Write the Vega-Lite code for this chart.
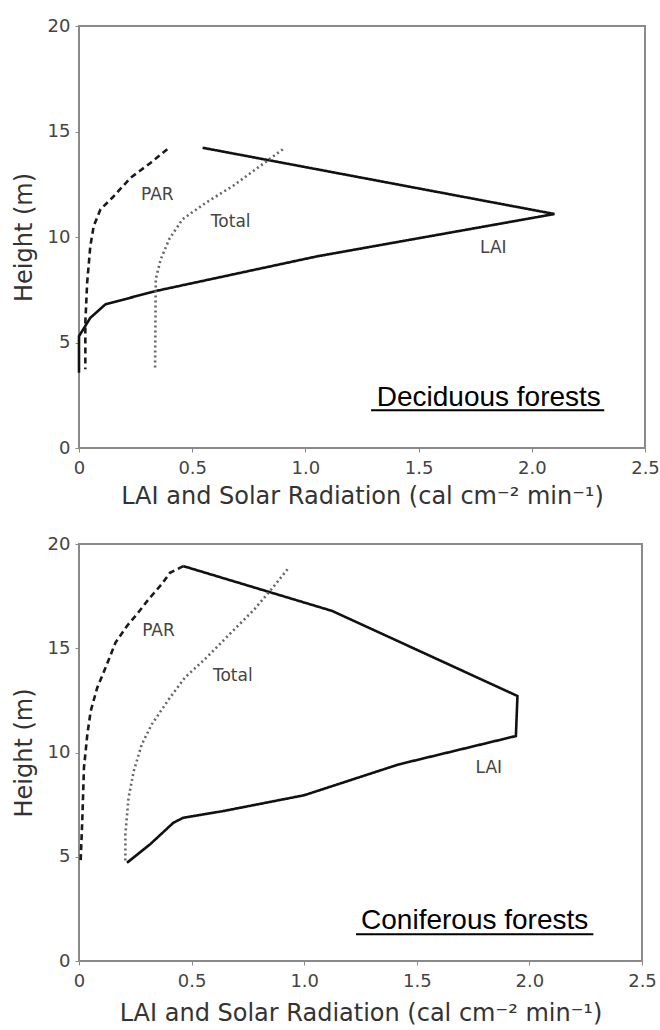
{
  "$schema": "https://vega.github.io/schema/vega-lite/v6.json",
  "padding": {"left": 11, "top": 16, "right": 0, "bottom": 2},
  "background": "white",
  "spacing": 25,
  "config": {
    "font": "DejaVu Sans",
    "view": {"stroke": "#8a8a8a", "strokeWidth": 2},
    "axis": {
      "grid": false,
      "domain": false,
      "tickSize": 4,
      "tickColor": "#888888",
      "labelFontSize": 18,
      "labelColor": "#444444",
      "titleFontSize": 24,
      "titleFontWeight": "normal",
      "titleColor": "#333333",
      "labelFlush": false,
      "labelOverlap": false
    }
  },
  "datasets": {
    "dec": [
      {"series": "LAI", "o": 1, "x": 0.546, "h": 14.23},
      {"series": "LAI", "o": 2, "x": 2.10, "h": 11.09},
      {"series": "LAI", "o": 3, "x": 1.05, "h": 9.08},
      {"series": "LAI", "o": 4, "x": 0.339, "h": 7.44},
      {"series": "LAI", "o": 5, "x": 0.117, "h": 6.81},
      {"series": "LAI", "o": 6, "x": 0.05, "h": 6.17},
      {"series": "LAI", "o": 7, "x": 0.0, "h": 5.3},
      {"series": "LAI", "o": 8, "x": 0.0, "h": 3.57},
      {"series": "PAR", "o": 1, "x": 0.39, "h": 14.16},
      {"series": "PAR", "o": 2, "x": 0.317, "h": 13.52},
      {"series": "PAR", "o": 3, "x": 0.228, "h": 12.81},
      {"series": "PAR", "o": 4, "x": 0.147, "h": 11.86},
      {"series": "PAR", "o": 5, "x": 0.095, "h": 11.31},
      {"series": "PAR", "o": 6, "x": 0.065, "h": 10.52},
      {"series": "PAR", "o": 7, "x": 0.05, "h": 9.57},
      {"series": "PAR", "o": 8, "x": 0.036, "h": 7.83},
      {"series": "PAR", "o": 9, "x": 0.028, "h": 5.94},
      {"series": "PAR", "o": 10, "x": 0.028, "h": 3.73},
      {"series": "Total", "o": 1, "x": 0.90, "h": 14.16},
      {"series": "Total", "o": 2, "x": 0.82, "h": 13.52},
      {"series": "Total", "o": 3, "x": 0.68, "h": 12.42},
      {"series": "Total", "o": 4, "x": 0.561, "h": 11.63},
      {"series": "Total", "o": 5, "x": 0.457, "h": 10.84},
      {"series": "Total", "o": 6, "x": 0.398, "h": 9.89},
      {"series": "Total", "o": 7, "x": 0.361, "h": 8.94},
      {"series": "Total", "o": 8, "x": 0.339, "h": 8.0},
      {"series": "Total", "o": 9, "x": 0.336, "h": 3.73}
    ],
    "con": [
      {"series": "LAI", "o": 1, "x": 0.463, "h": 18.94},
      {"series": "LAI", "o": 2, "x": 1.124, "h": 16.79},
      {"series": "LAI", "o": 3, "x": 1.947, "h": 12.71},
      {"series": "LAI", "o": 4, "x": 1.94, "h": 10.79},
      {"series": "LAI", "o": 5, "x": 1.42, "h": 9.43},
      {"series": "LAI", "o": 6, "x": 1.0, "h": 7.95},
      {"series": "LAI", "o": 7, "x": 0.64, "h": 7.19},
      {"series": "LAI", "o": 8, "x": 0.463, "h": 6.87},
      {"series": "LAI", "o": 9, "x": 0.419, "h": 6.63},
      {"series": "LAI", "o": 10, "x": 0.316, "h": 5.6},
      {"series": "LAI", "o": 11, "x": 0.213, "h": 4.71},
      {"series": "PAR", "o": 1, "x": 0.463, "h": 18.94},
      {"series": "PAR", "o": 2, "x": 0.404, "h": 18.62},
      {"series": "PAR", "o": 3, "x": 0.367, "h": 18.07},
      {"series": "PAR", "o": 4, "x": 0.309, "h": 17.35},
      {"series": "PAR", "o": 5, "x": 0.257, "h": 16.63},
      {"series": "PAR", "o": 6, "x": 0.213, "h": 16.07},
      {"series": "PAR", "o": 7, "x": 0.162, "h": 15.27},
      {"series": "PAR", "o": 8, "x": 0.118, "h": 14.07},
      {"series": "PAR", "o": 9, "x": 0.081, "h": 13.11},
      {"series": "PAR", "o": 10, "x": 0.052, "h": 11.99},
      {"series": "PAR", "o": 11, "x": 0.037, "h": 10.87},
      {"series": "PAR", "o": 12, "x": 0.022, "h": 9.27},
      {"series": "PAR", "o": 13, "x": 0.015, "h": 6.87},
      {"series": "PAR", "o": 14, "x": 0.007, "h": 4.71},
      {"series": "Total", "o": 1, "x": 0.926, "h": 18.79},
      {"series": "Total", "o": 2, "x": 0.86, "h": 17.9},
      {"series": "Total", "o": 3, "x": 0.779, "h": 16.87},
      {"series": "Total", "o": 4, "x": 0.683, "h": 15.83},
      {"series": "Total", "o": 5, "x": 0.566, "h": 14.55},
      {"series": "Total", "o": 6, "x": 0.47, "h": 13.59},
      {"series": "Total", "o": 7, "x": 0.404, "h": 12.63},
      {"series": "Total", "o": 8, "x": 0.323, "h": 11.35},
      {"series": "Total", "o": 9, "x": 0.279, "h": 10.39},
      {"series": "Total", "o": 10, "x": 0.243, "h": 9.11},
      {"series": "Total", "o": 11, "x": 0.22, "h": 7.83},
      {"series": "Total", "o": 12, "x": 0.206, "h": 6.08},
      {"series": "Total", "o": 13, "x": 0.206, "h": 4.8}
    ],
    "decLabels": [
      {"label": "PAR", "x": 0.346, "h": 12.0},
      {"label": "Total", "x": 0.67, "h": 10.7},
      {"label": "LAI", "x": 1.83, "h": 9.48}
    ],
    "conLabels": [
      {"label": "PAR", "x": 0.353, "h": 15.83},
      {"label": "Total", "x": 0.683, "h": 13.67},
      {"label": "LAI", "x": 1.82, "h": 9.26}
    ],
    "decName": [{"label": "Deciduous forests", "x": 1.81, "h": 2.0, "x1": 1.29, "x2": 2.32, "hu": 1.79}],
    "conName": [{"label": "Coniferous forests", "x": 1.757, "h": 1.53, "x1": 1.23, "x2": 2.284, "hu": 1.28}]
  },
  "vconcat": [
    {
      "width": 566,
      "height": 422,
      "encoding": {
        "x": {"field": "x", "type": "quantitative",
          "scale": {"domain": [0, 2.5], "nice": false, "zero": false},
          "axis": {"title": "LAI and Solar Radiation (cal cm⁻² min⁻¹)", "values": [0, 0.5, 1, 1.5, 2, 2.5],
            "labelExpr": "datum.value == 0 ? '0' : format(datum.value, '.1f')", "labelPadding": 7, "titlePadding": 7}},
        "y": {"field": "h", "type": "quantitative",
          "scale": {"domain": [0, 20], "nice": false},
          "axis": {"title": "Height (m)", "values": [0, 5, 10, 15, 20], "labelPadding": 5, "titlePadding": 11}}
      },
      "layer": [
        {
          "data": {"name": "dec"},
          "mark": {"type": "line", "strokeCap": "butt", "strokeJoin": "miter"},
          "encoding": {
            "order": {"field": "o", "type": "quantitative"},
            "color": {"field": "series", "type": "nominal", "scale": {"domain": ["LAI", "PAR", "Total"], "range": ["#111111", "#1a1a1a", "#666666"]}, "legend": null},
            "strokeDash": {"field": "series", "type": "nominal", "scale": {"domain": ["LAI", "PAR", "Total"], "range": [[1, 0], [6, 4], [2, 3]]}, "legend": null},
            "strokeWidth": {"field": "series", "type": "nominal", "scale": {"domain": ["LAI", "PAR", "Total"], "range": [2.6, 2.6, 2]}, "legend": null}
          }
        },
        {
          "data": {"name": "decLabels"},
          "mark": {"type": "text", "fontSize": 17, "color": "#444444", "align": "center", "baseline": "middle"},
          "encoding": {"text": {"field": "label"}}
        },
        {
          "data": {"name": "decName"},
          "mark": {"type": "text", "font": "Liberation Sans", "fontSize": 28, "color": "#000000", "align": "center", "baseline": "alphabetic"},
          "encoding": {"text": {"field": "label"}}
        },
        {
          "data": {"name": "decName"},
          "mark": {"type": "rule", "color": "#000000", "strokeWidth": 2},
          "encoding": {"x": {"field": "x1", "type": "quantitative"}, "x2": {"field": "x2"}, "y": {"field": "hu", "type": "quantitative"}}
        }
      ]
    },
    {
      "width": 563,
      "height": 417,
      "encoding": {
        "x": {"field": "x", "type": "quantitative",
          "scale": {"domain": [0, 2.5], "nice": false, "zero": false},
          "axis": {"title": "LAI and Solar Radiation (cal cm⁻² min⁻¹)", "values": [0, 0.5, 1, 1.5, 2, 2.5],
            "labelExpr": "datum.value == 0 ? '0' : format(datum.value, '.1f')", "labelPadding": 7, "titlePadding": 11}},
        "y": {"field": "h", "type": "quantitative",
          "scale": {"domain": [0, 20], "nice": false},
          "axis": {"title": "Height (m)", "values": [0, 5, 10, 15, 20], "labelPadding": 5, "titlePadding": 11}}
      },
      "layer": [
        {
          "data": {"name": "con"},
          "mark": {"type": "line", "strokeCap": "butt", "strokeJoin": "miter"},
          "encoding": {
            "order": {"field": "o", "type": "quantitative"},
            "color": {"field": "series", "type": "nominal", "scale": {"domain": ["LAI", "PAR", "Total"], "range": ["#111111", "#1a1a1a", "#666666"]}, "legend": null},
            "strokeDash": {"field": "series", "type": "nominal", "scale": {"domain": ["LAI", "PAR", "Total"], "range": [[1, 0], [6, 4], [2, 3]]}, "legend": null},
            "strokeWidth": {"field": "series", "type": "nominal", "scale": {"domain": ["LAI", "PAR", "Total"], "range": [2.6, 2.6, 2]}, "legend": null}
          }
        },
        {
          "data": {"name": "conLabels"},
          "mark": {"type": "text", "fontSize": 17, "color": "#444444", "align": "center", "baseline": "middle"},
          "encoding": {"text": {"field": "label"}}
        },
        {
          "data": {"name": "conName"},
          "mark": {"type": "text", "font": "Liberation Sans", "fontSize": 28, "color": "#000000", "align": "center", "baseline": "alphabetic"},
          "encoding": {"text": {"field": "label"}}
        },
        {
          "data": {"name": "conName"},
          "mark": {"type": "rule", "color": "#000000", "strokeWidth": 2},
          "encoding": {"x": {"field": "x1", "type": "quantitative"}, "x2": {"field": "x2"}, "y": {"field": "hu", "type": "quantitative"}}
        }
      ]
    }
  ]
}
